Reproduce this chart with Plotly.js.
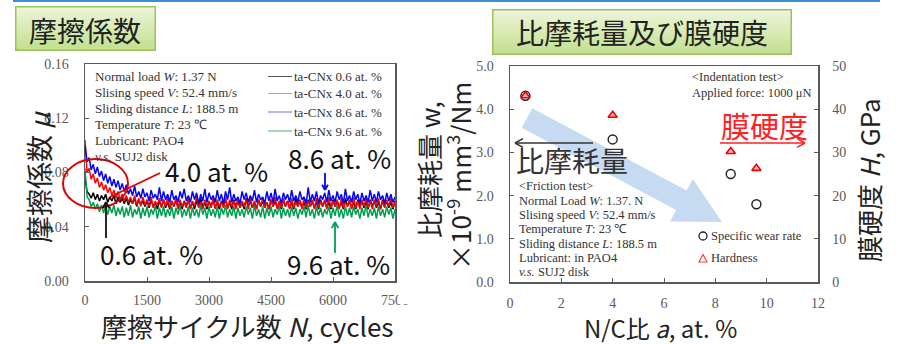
<!DOCTYPE html>
<html><head><meta charset="utf-8">
<script src="https://cdn.plot.ly/plotly-3.0.1.min.js"></script>
<style>html,body{margin:0;padding:0;background:#fff}#chart{width:915px;height:344px}</style>
</head><body><div id="chart"></div>
<script>
// ---------- data: friction coefficient vs cycles ----------
const cycles = [0,50,100,150,200,250,300,350,400,450,
 500,550,600,650,700,750,800,850,900,950,
 1000,1050,1100,1150,1200,1250,1300,1350,1400,1450,
 1500,1550,1600,1650,1700,1750,1800,1850,1900,1950,
 2000,2050,2100,2150,2200,2250,2300,2350,2400,2450,
 2500,2550,2600,2650,2700,2750,2800,2850,2900,2950,
 3000,3050,3100,3150,3200,3250,3300,3350,3400,3450,
 3500,3550,3600,3650,3700,3750,3800,3850,3900,3950,
 4000,4050,4100,4150,4200,4250,4300,4350,4400,4450,
 4500,4550,4600,4650,4700,4750,4800,4850,4900,4950,
 5000,5050,5100,5150,5200,5250,5300,5350,5400,5450,
 5500,5550,5600,5650,5700,5750,5800,5850,5900,5950,
 6000,6050,6100,6150,6200,6250,6300,6350,6400,6450,
 6500,6550,6600,6650,6700,6750,6800,6850,6900,6950,
 7000,7050,7100,7150,7200,7250,7300,7350,7400,7450,
 7500];
const mu06 = [0.076,0.066,0.064,0.061,0.065,0.060,0.064,0.059,0.063,0.060,
 0.064,0.058,0.062,0.059,0.063,0.057,0.062,0.058,0.061,0.057,
 0.061,0.056,0.060,0.057,0.061,0.055,0.060,0.056,0.059,0.055,
 0.059,0.054,0.060,0.055,0.058,0.053,0.059,0.055,0.060,0.054,
 0.058,0.053,0.059,0.055,0.060,0.054,0.058,0.053,0.059,0.055,
 0.060,0.054,0.058,0.053,0.059,0.055,0.061,0.054,0.058,0.053,
 0.059,0.055,0.060,0.054,0.058,0.053,0.059,0.055,0.060,0.054,
 0.058,0.053,0.060,0.055,0.059,0.054,0.058,0.053,0.061,0.055,
 0.059,0.054,0.058,0.053,0.060,0.055,0.059,0.054,0.058,0.053,
 0.060,0.055,0.059,0.054,0.058,0.053,0.060,0.055,0.059,0.054,
 0.058,0.053,0.061,0.055,0.059,0.054,0.058,0.053,0.060,0.055,
 0.059,0.054,0.058,0.053,0.060,0.055,0.059,0.054,0.058,0.053,
 0.060,0.055,0.059,0.054,0.058,0.053,0.061,0.055,0.059,0.054,
 0.058,0.053,0.060,0.055,0.059,0.054,0.058,0.053,0.060,0.055,
 0.059,0.054,0.058,0.053,0.060,0.055,0.059,0.054,0.058,0.053,
 0.059];
const mu40 = [0.104,0.080,0.083,0.075,0.079,0.072,0.076,0.069,0.073,0.067,
 0.071,0.065,0.069,0.063,0.067,0.061,0.066,0.060,0.064,0.059,
 0.063,0.058,0.062,0.057,0.063,0.056,0.061,0.055,0.062,0.056,
 0.060,0.055,0.062,0.054,0.059,0.056,0.061,0.054,0.060,0.055,
 0.062,0.054,0.059,0.055,0.061,0.053,0.060,0.055,0.058,0.054,
 0.061,0.053,0.059,0.055,0.062,0.054,0.058,0.053,0.060,0.055,
 0.059,0.054,0.061,0.053,0.060,0.055,0.058,0.054,0.062,0.053,
 0.060,0.055,0.059,0.053,0.061,0.054,0.059,0.055,0.060,0.053,
 0.062,0.054,0.059,0.053,0.060,0.055,0.061,0.054,0.058,0.053,
 0.060,0.055,0.062,0.053,0.059,0.054,0.061,0.055,0.059,0.053,
 0.061,0.054,0.058,0.055,0.060,0.053,0.062,0.054,0.059,0.055,
 0.060,0.053,0.061,0.054,0.059,0.055,0.060,0.053,0.062,0.054,
 0.059,0.055,0.060,0.053,0.061,0.054,0.058,0.055,0.060,0.053,
 0.062,0.054,0.059,0.053,0.060,0.055,0.061,0.054,0.059,0.053,
 0.060,0.055,0.061,0.053,0.059,0.054,0.060,0.055,0.061,0.054,
 0.058];
const mu86 = [0.100,0.088,0.091,0.082,0.086,0.079,0.084,0.077,0.081,0.074,
 0.079,0.072,0.077,0.070,0.075,0.069,0.074,0.067,0.072,0.066,
 0.071,0.064,0.068,0.063,0.070,0.062,0.066,0.061,0.068,0.062,
 0.065,0.059,0.067,0.061,0.064,0.060,0.069,0.059,0.066,0.060,
 0.064,0.058,0.067,0.060,0.063,0.058,0.066,0.061,0.068,0.059,
 0.063,0.058,0.066,0.060,0.065,0.057,0.064,0.059,0.068,0.058,
 0.065,0.060,0.063,0.058,0.067,0.059,0.064,0.057,0.066,0.060,
 0.069,0.058,0.064,0.059,0.062,0.057,0.066,0.060,0.065,0.058,
 0.063,0.059,0.067,0.058,0.064,0.060,0.062,0.057,0.066,0.059,
 0.065,0.058,0.068,0.059,0.063,0.057,0.065,0.060,0.064,0.058,
 0.067,0.059,0.063,0.058,0.066,0.060,0.062,0.057,0.069,0.058,
 0.064,0.059,0.066,0.057,0.063,0.060,0.065,0.058,0.067,0.059,
 0.063,0.058,0.066,0.060,0.064,0.057,0.068,0.059,0.063,0.058,
 0.066,0.060,0.064,0.057,0.065,0.059,0.063,0.058,0.067,0.059,
 0.064,0.058,0.066,0.060,0.063,0.057,0.065,0.059,0.064,0.058,
 0.062];
const mu96 = [0.083,0.062,0.060,0.055,0.058,0.053,0.057,0.051,0.056,0.050,
 0.056,0.049,0.055,0.050,0.056,0.048,0.054,0.049,0.055,0.047,
 0.054,0.048,0.056,0.047,0.053,0.049,0.055,0.046,0.054,0.048,
 0.055,0.047,0.053,0.049,0.056,0.046,0.054,0.048,0.055,0.047,
 0.053,0.048,0.055,0.046,0.054,0.049,0.056,0.047,0.053,0.048,
 0.055,0.046,0.054,0.048,0.053,0.047,0.056,0.049,0.054,0.046,
 0.055,0.048,0.053,0.047,0.055,0.046,0.054,0.049,0.056,0.047,
 0.053,0.048,0.055,0.046,0.054,0.048,0.053,0.047,0.055,0.049,
 0.054,0.046,0.056,0.048,0.053,0.047,0.055,0.046,0.054,0.048,
 0.055,0.047,0.053,0.049,0.056,0.046,0.054,0.048,0.053,0.047,
 0.055,0.048,0.054,0.046,0.053,0.049,0.055,0.047,0.056,0.048,
 0.053,0.046,0.055,0.048,0.054,0.047,0.053,0.049,0.055,0.046,
 0.054,0.048,0.056,0.047,0.053,0.046,0.055,0.048,0.054,0.047,
 0.055,0.049,0.053,0.046,0.054,0.048,0.056,0.047,0.053,0.048,
 0.054,0.046,0.055,0.048,0.053,0.047,0.055,0.049,0.054,0.046,
 0.053];
const seriesNames = ['ta-CNx 0.6 at. %','ta-CNx 4.0 at. %','ta-CNx 8.6 at. %','ta-CNx 9.6 at. %'];
const leftXTicks = [0,1500,3000,4500,6000,7500];
const leftYTicks = [0,0.04,0.08,0.12,0.16];

// ---------- data: wear rate & hardness vs N/C ratio ----------
const ncRatio  = [0.6, 4.0, 8.6, 9.6];
const wearRate = [4.31, 3.30, 2.50, 1.80];
const hardness = [43.1, 38.6, 30.2, 26.3];
const rightXTicks = [0,2,4,6,8,10,12];

// ---------- helpers (pixel -> paper) ----------
const W = 915, H = 344;
const px = x => x / W, py = y => 1 - y / H;
const CJK = 'Noto Sans CJK JP', SERIF = 'Liberation Serif';
const GRAY = '#595959';

function txt(text, x, y, o) {
  return Object.assign({text, x: px(x), y: py(y), xref: 'paper', yref: 'paper', showarrow: false,
    xanchor: 'left', yanchor: 'middle', font: {family: SERIF, size: 13, color: '#333'}}, o || {});
}
function seg(x0, y0, x1, y1, color, width) {
  return {type: 'line', xref: 'paper', yref: 'paper', x0: px(x0), y0: py(y0), x1: px(x1), y1: py(y1),
    line: {color, width}, layer: 'above'};
}
function arrow(x0, y0, x1, y1, color, width, hl) {
  const a = Math.atan2(y1 - y0, x1 - x0), s = 0.5;
  const out = [seg(x0, y0, x1, y1, color, width)];
  [a + Math.PI - s, a + Math.PI + s].forEach(b => {
    out.push(seg(x1, y1, x1 + hl * Math.cos(b), y1 + hl * Math.sin(b), color, width));
  });
  return out;
}
function pathPx(pts) {
  return 'M' + pts.map(p => px(p[0]) + ',' + py(p[1])).join(' L') + ' Z';
}
function gradBox(w, h) {
  const svg = `<svg xmlns='http://www.w3.org/2000/svg' width='${w}' height='${h}'><defs><linearGradient id='g' x1='0' y1='0' x2='0' y2='1'><stop offset='0' stop-color='#edf6dc'/><stop offset='1' stop-color='#c2df8c'/></linearGradient></defs><rect x='0.75' y='0.75' width='${w-1.5}' height='${h-1.5}' fill='url(#g)' stroke='#9cc05e' stroke-width='1.5'/></svg>`;
  return 'data:image/svg+xml;charset=utf-8,' + encodeURIComponent(svg);
}

// ---------- traces ----------
const lw = 1.5;
const traces = [
  {x: cycles, y: mu06, name: seriesNames[0], mode: 'lines', line: {color: '#000000', width: lw}, xaxis: 'x', yaxis: 'y', showlegend: false},
  {x: cycles, y: mu96, name: seriesNames[3], mode: 'lines', line: {color: '#00a050', width: lw}, xaxis: 'x', yaxis: 'y', showlegend: false},
  {x: cycles, y: mu40, name: seriesNames[1], mode: 'lines', line: {color: '#ff0000', width: lw}, xaxis: 'x', yaxis: 'y', showlegend: false},
  {x: cycles, y: mu86, name: seriesNames[2], mode: 'lines', line: {color: '#0000ff', width: lw}, xaxis: 'x', yaxis: 'y', showlegend: false},
  {x: ncRatio, y: wearRate, name: 'Specific wear rate', mode: 'markers', xaxis: 'x2', yaxis: 'y2', showlegend: false,
   marker: {symbol: 'circle-open', size: 9, color: '#222', line: {width: 1.4}}},
  {x: ncRatio, y: hardness, name: 'Hardness', mode: 'markers', xaxis: 'x2', yaxis: 'y3', showlegend: false,
   marker: {symbol: 'triangle-up', size: 8, color: 'rgba(255,90,90,0.45)', line: {color: '#ee0000', width: 1.6}}}
];

const tickFont = {family: SERIF, size: 14, color: GRAY};
const axBase = {showline: true, linecolor: GRAY, linewidth: 1.5, ticks: 'inside', ticklen: 4, tickcolor: GRAY,
  tickwidth: 1, showgrid: false, zeroline: false, tickfont: tickFont, fixedrange: true};

// ---------- shapes ----------
const shapes = [
  seg(13, 1, 880, 1, '#3a8fd8', 2),
  {type: 'path', xref: 'paper', yref: 'paper', layer: 'below', line: {width: 0}, fillcolor: 'rgba(160,194,232,0.6)',
   path: pathPx([[521.8,127.7],[532.2,108.3],[686.6,190.6],[692.7,179.1],[722,222],[670.1,221.5],[676.2,210.0]])},
  {type: 'circle', xref: 'paper', yref: 'paper', x0: px(63), x1: px(128), y0: py(208), y1: py(159),
   line: {color: '#e00000', width: 2}, layer: 'above'},
  seg(110, 197, 160, 173, '#e00000', 1.8),
  ...arrow(106, 238, 106, 202, '#111', 1.8, 7),
  ...arrow(325, 173, 325, 190, '#0000ff', 1.8, 6),
  ...arrow(335, 253, 335, 222, '#00a050', 1.8, 7),
  ...arrow(720, 143, 805, 143, '#ff2020', 1.5, 9),
  ...arrow(593, 143, 515, 143, '#333', 1.5, 9),
  seg(268, 76.5, 292, 76.5, '#555', 1),
  seg(268, 93.5, 292, 93.5, '#ff8080', 1),
  seg(268, 112, 292, 112, '#6a6aff', 1),
  seg(268, 131, 292, 131, '#3cb371', 1),
  {type: 'circle', xref: 'paper', yref: 'paper', x0: px(699), x1: px(707), y0: py(240), y1: py(232),
   line: {color: '#222', width: 1.3}, layer: 'above'},
  {type: 'path', xref: 'paper', yref: 'paper', layer: 'above', line: {color: '#ff4040', width: 1.2},
   path: pathPx([[699,262],[707,262],[703,254.5]])},
  {type: 'rect', xref: 'paper', yref: 'paper', x0: px(398.5), x1: px(412), y0: py(304), y1: py(287),
   line: {width: 0}, fillcolor: '#fff', layer: 'above'}
];

// ---------- annotations ----------
const ann = [
  txt('摩擦係数', 85, 30, {xanchor: 'center', font: {family: CJK, size: 28, color: '#222'}}),
  txt('比摩耗量及び膜硬度', 642, 32, {xanchor: 'center', font: {family: CJK, size: 28, color: '#222'}}),
  txt('摩擦係数 <i>μ</i>', 38, 177, {xanchor: 'center', textangle: -90, font: {family: CJK, size: 27, color: '#222'}}),
  txt('摩擦サイクル数 <i>N</i>, cycles', 247, 325, {xanchor: 'center', font: {family: CJK, size: 26, color: '#222'}}),
  txt('比摩耗量 w,', 428, 170, {xanchor: 'center', textangle: -90, font: {family: CJK, size: 26, color: '#222'}}),
  txt('×10<sup>-9</sup> mm<sup>3</sup>/Nm', 458, 176, {xanchor: 'center', textangle: -90, font: {family: CJK, size: 26, color: '#222'}}),
  txt('膜硬度 <i>H</i>, GPa', 868, 180, {xanchor: 'center', textangle: -90, font: {family: CJK, size: 26, color: '#222'}}),
  txt('N/C比 <i>a</i>, at. %', 660, 327, {xanchor: 'center', font: {family: CJK, size: 24, color: '#222'}}),
  txt('Normal load <i>W</i>: 1.37 N', 93, 76.5),
  txt('Slising speed <i>V</i>: 52.4 mm/s', 93, 92.5),
  txt('Sliding distance <i>L</i>: 188.5 m', 93, 108.5),
  txt('Temperature <i>T</i>: 23 ℃', 93, 124.5),
  txt('Lubricant: PAO4', 93, 140.5),
  txt('<i>v.s.</i> SUJ2 disk', 93, 156.5),
  txt(seriesNames[0], 292, 76.5), txt(seriesNames[1], 292, 93.5),
  txt(seriesNames[2], 292, 112), txt(seriesNames[3], 292, 131),
  txt('4.0 at. %', 216, 170, {xanchor: 'center', font: {family: CJK, size: 26, color: '#111'}}),
  txt('8.6 at. %', 339, 158, {xanchor: 'center', font: {family: CJK, size: 26, color: '#111'}}),
  txt('0.6 at. %', 151, 253, {xanchor: 'center', font: {family: CJK, size: 26, color: '#111'}}),
  txt('9.6 at. %', 338, 263, {xanchor: 'center', font: {family: CJK, size: 26, color: '#111'}}),
  txt('&lt;Indentation test&gt;', 690, 77, {font: {family: SERIF, size: 12.5, color: '#333'}}),
  txt('Applied force: 1000 μN', 690, 93, {font: {family: SERIF, size: 12.5, color: '#333'}}),
  txt('膜硬度', 764, 125, {xanchor: 'center', font: {family: CJK, size: 29, color: '#ff2020'}}),
  txt('比摩耗量', 572, 160, {xanchor: 'center', font: {family: CJK, size: 28, color: '#333'}}),
  txt('&lt;Friction test&gt;', 517, 186, {font: {family: SERIF, size: 12.5, color: '#333'}}),
  txt('Normal Load <i>W</i>: 1.37. N', 517, 200.5, {font: {family: SERIF, size: 12.5, color: '#333'}}),
  txt('Slising speed <i>V</i>: 52.4 mm/s', 517, 214.5, {font: {family: SERIF, size: 12.5, color: '#333'}}),
  txt('Temperature <i>T</i>: 23 ℃', 517, 229, {font: {family: SERIF, size: 12.5, color: '#333'}}),
  txt('Sliding distance <i>L</i>: 188.5 m', 517, 243.5, {font: {family: SERIF, size: 12.5, color: '#333'}}),
  txt('Lubricant: in PAO4', 517, 258, {font: {family: SERIF, size: 12.5, color: '#333'}}),
  txt('<i>v.s.</i> SUJ2 disk', 517, 272, {font: {family: SERIF, size: 12.5, color: '#333'}}),
  txt('Specific wear rate', 709, 236, {font: {family: SERIF, size: 12.5, color: '#333'}}),
  txt('Hardness', 709, 258, {font: {family: SERIF, size: 12.5, color: '#333'}})
];

const layout = {
  width: W, height: H, margin: {l: 0, r: 0, t: 0, b: 0},
  paper_bgcolor: '#fff', plot_bgcolor: 'rgba(0,0,0,0)',
  font: {family: SERIF, color: '#333'}, showlegend: false,
  xaxis: Object.assign({}, axBase, {domain: [px(85), px(395)], range: [0, 7500], tickvals: leftXTicks,
    mirror: true, anchor: 'y', ticklabelstandoff: 6}),
  yaxis: Object.assign({}, axBase, {domain: [py(281), py(64)], range: [0, 0.16], tickvals: leftYTicks,
    tickformat: '.2f', mirror: true, anchor: 'x', ticklabelstandoff: 12}),
  xaxis2: Object.assign({}, axBase, {domain: [px(510), px(818)], range: [0, 12], tickvals: rightXTicks,
    mirror: true, anchor: 'y2', ticklabelstandoff: 8}),
  yaxis2: Object.assign({}, axBase, {domain: [py(282), py(66)], range: [0, 5], dtick: 1, tickformat: '.1f',
    anchor: 'x2', ticklabelstandoff: 12}),
  yaxis3: Object.assign({}, axBase, {range: [0, 50], dtick: 10, overlaying: 'y2', side: 'right',
    anchor: 'x2', ticklabelstandoff: 10}),
  shapes: shapes,
  annotations: ann,
  images: [
    {source: gradBox(141, 45), xref: 'paper', yref: 'paper', x: px(15), y: py(6), sizex: 141 / W, sizey: 45 / H,
     xanchor: 'left', yanchor: 'top', sizing: 'stretch', layer: 'above'},
    {source: gradBox(300, 46), xref: 'paper', yref: 'paper', x: px(492), y: py(9), sizex: 300 / W, sizey: 46 / H,
     xanchor: 'left', yanchor: 'top', sizing: 'stretch', layer: 'above'}
  ]
};

Plotly.newPlot('chart', traces, layout, {displayModeBar: false, staticPlot: true});
</script>
</body></html>
